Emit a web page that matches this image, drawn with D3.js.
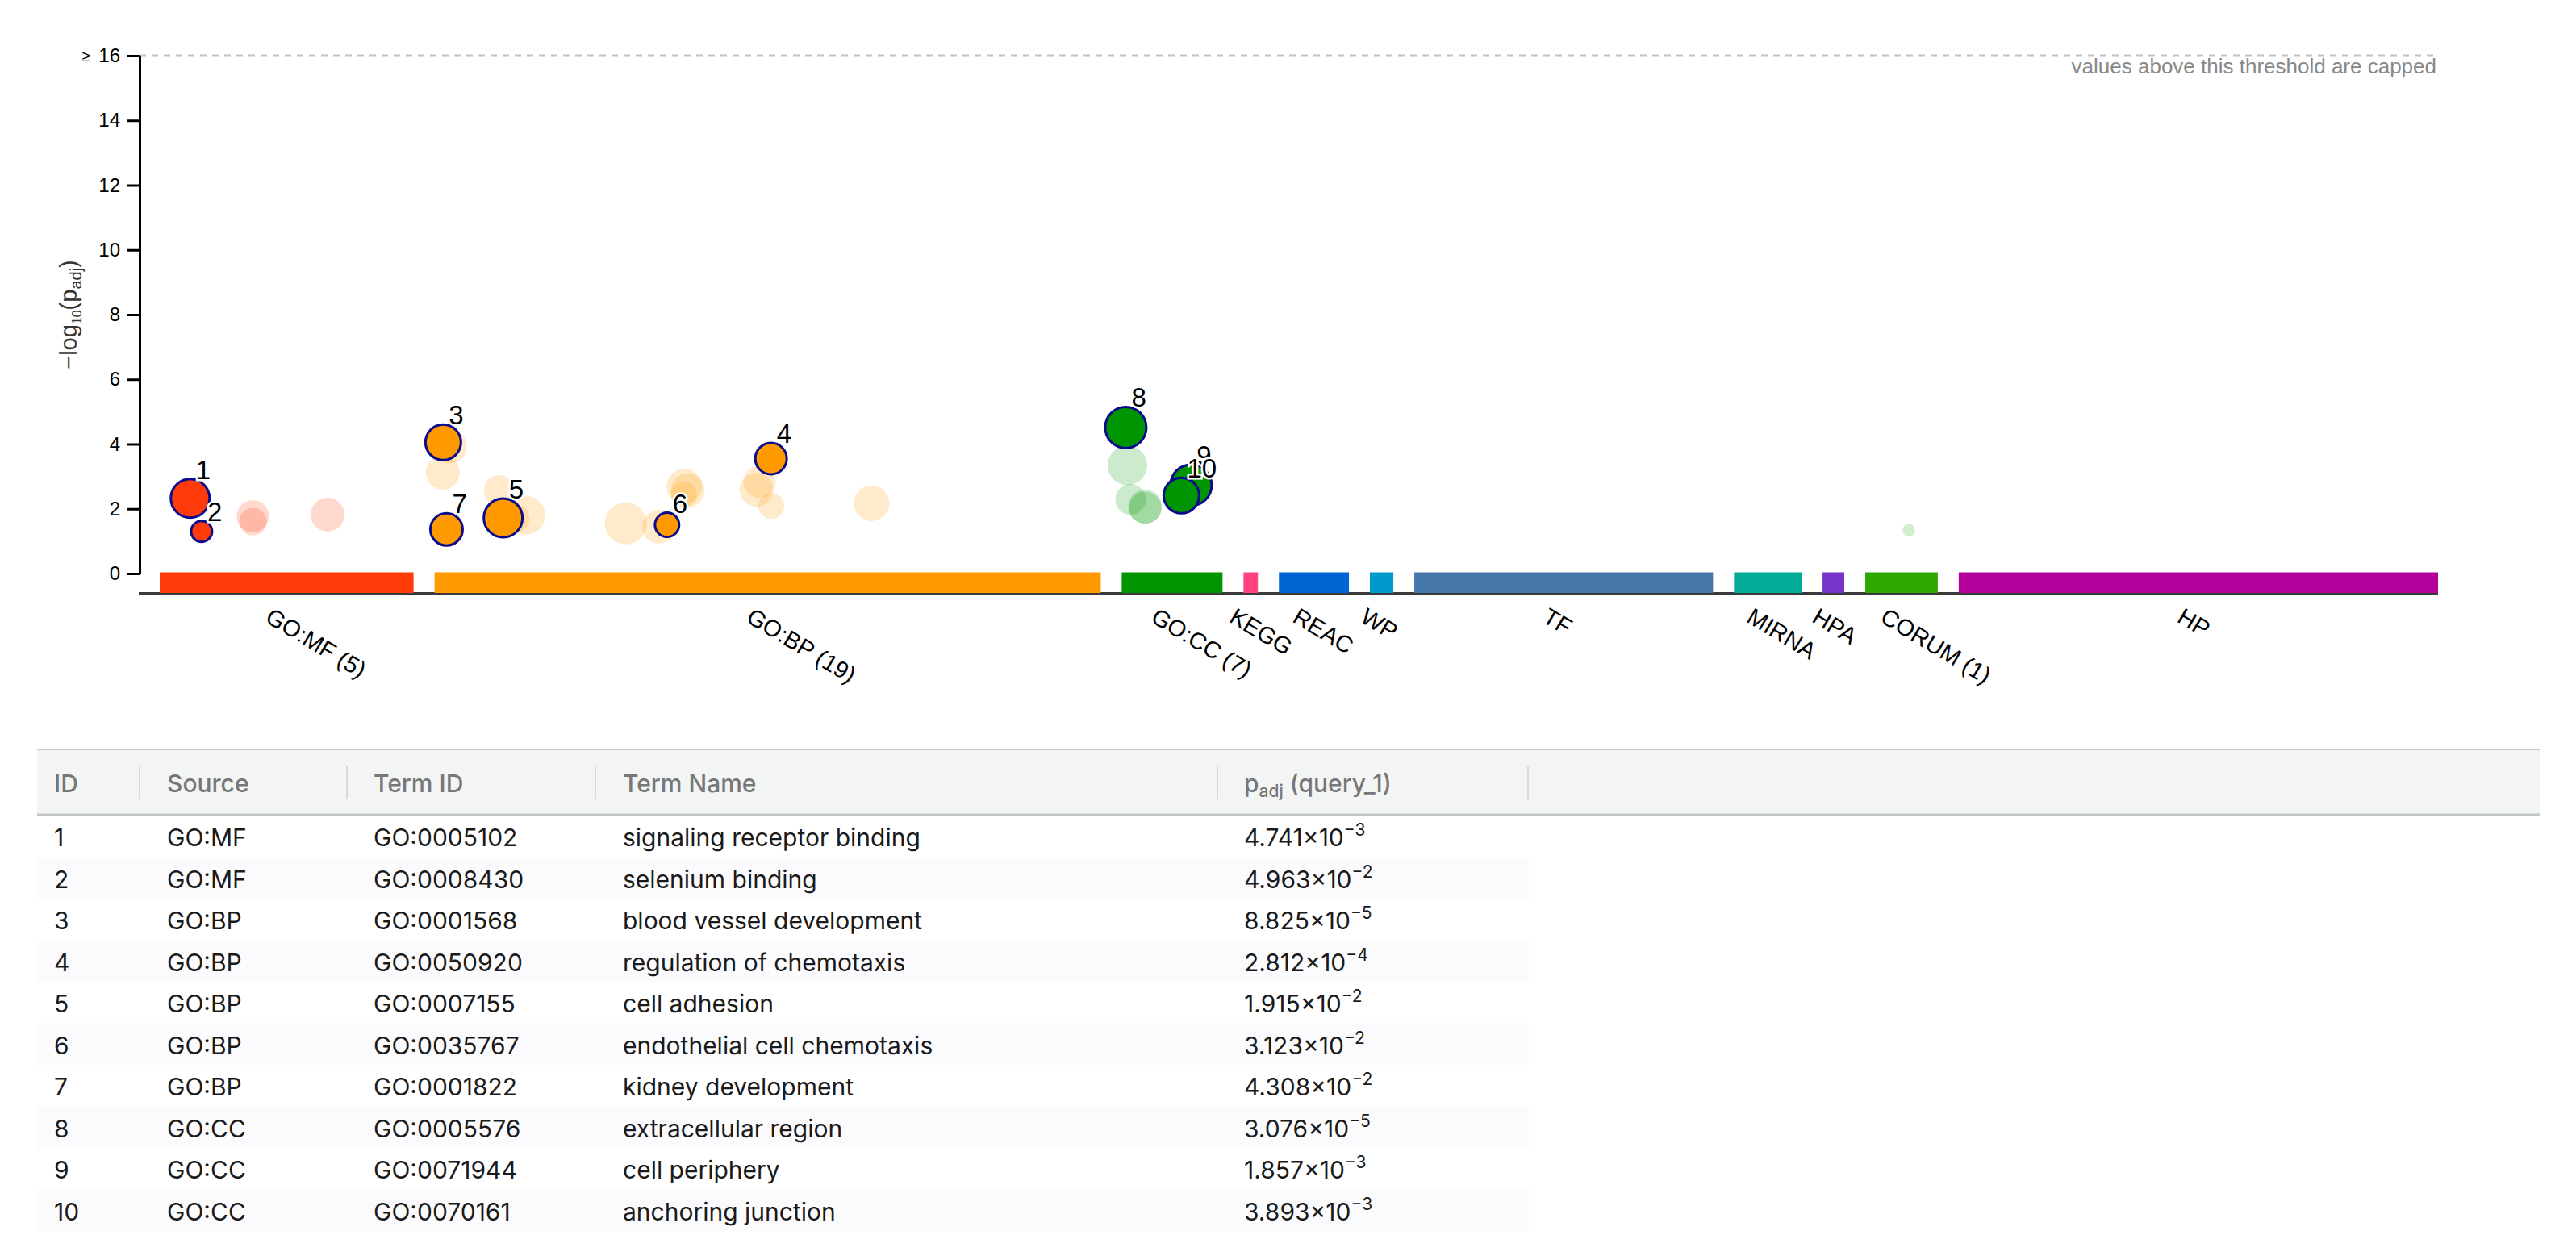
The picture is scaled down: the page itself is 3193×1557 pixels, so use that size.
<!DOCTYPE html>
<html>
<head>
<meta charset="utf-8">
<script src="https://cdn.jsdelivr.net/npm/d3@7"></script>
<style>
body { margin: 0; background: #fff; }
svg { display: block; }
</style>
</head>
<body>
<svg id="svg1" width="3193" height="1557"></svg>
<script>
// data sources, in plot order
var sources = ["GO:MF", "GO:BP", "GO:CC", "KEGG", "REAC", "WP", "TF", "MIRNA", "HPA", "CORUM", "HP"];
var sourceLabels = ["GO:MF (5)", "GO:BP (19)", "GO:CC (7)", "KEGG", "REAC", "WP", "TF", "MIRNA", "HPA", "CORUM (1)", "HP"];
// approximate number of terms in each source (sets the width of each block)
var sourceTerms = [10400, 27300, 4130, 590, 2870, 960, 12240, 2770, 890, 2970, 19640];

// every significant term: source, rank inside source, -log10(p_adj), term size, table id (0 = not listed)
var termSource = ["GO:MF", "GO:MF", "GO:MF", "GO:MF", "GO:MF",
	"GO:BP", "GO:BP", "GO:BP", "GO:BP", "GO:BP", "GO:BP", "GO:BP", "GO:BP", "GO:BP", "GO:BP",
	"GO:BP", "GO:BP", "GO:BP", "GO:BP", "GO:BP", "GO:BP", "GO:BP", "GO:BP", "GO:BP",
	"GO:CC", "GO:CC", "GO:CC", "GO:CC", "GO:CC", "GO:CC", "GO:CC",
	"CORUM"];
var termRank = [1248, 1716, 3817, 3817, 6874,
	355, 628, 340, 491, 2648, 2812, 3740, 3303, 7835, 9200,
	9528, 10238, 10374, 10210, 13787, 13322, 13186, 13800, 17909,
	165, 231, 363, 958, 958, 2841, 2445,
	1782];
var termValue = [null, null, 1.77, 1.60, 1.82,
	null, 3.92, 3.12, null, 2.57, null, 1.80, 1.70, 1.55, 1.45,
	null, 2.69, 2.57, 2.45, null, 2.83, 2.59, 2.09, 2.17,
	null, 3.34, 2.29, 2.07, 2.03, null, null,
	1.34];
var termGenes = [1194, 24, 290, 100, 412,
	589, 412, 412, 290, 203, 1194, 1194, 142, 2424, 412,
	49, 589, 412, 70, 242, 290, 412, 70, 589,
	2036, 1424, 203, 412, 290, 2036, 589,
	4];
var termId = [1, 2, 0, 0, 0,
	3, 0, 0, 7, 0, 5, 0, 0, 0, 0,
	6, 0, 0, 0, 4, 0, 0, 0, 0,
	8, 0, 0, 0, 0, 9, 10,
	0];

// table of highlighted terms
var tableIds = [1, 2, 3, 4, 5, 6, 7, 8, 9, 10];
var tableSource = ["GO:MF", "GO:MF", "GO:BP", "GO:BP", "GO:BP", "GO:BP", "GO:BP", "GO:CC", "GO:CC", "GO:CC"];
var tableTermId = ["GO:0005102", "GO:0008430", "GO:0001568", "GO:0050920", "GO:0007155",
	"GO:0035767", "GO:0001822", "GO:0005576", "GO:0071944", "GO:0070161"];
var tableName = ["signaling receptor binding", "selenium binding", "blood vessel development",
	"regulation of chemotaxis", "cell adhesion", "endothelial cell chemotaxis", "kidney development",
	"extracellular region", "cell periphery", "anchoring junction"];
var tablePadj = [4.741e-3, 4.963e-2, 8.825e-5, 2.812e-4, 1.915e-2, 3.123e-2, 4.308e-2, 3.076e-5, 1.857e-3, 3.893e-3];

var yTicks = [0, 2, 4, 6, 8, 10, 12, 14, 16];

var svg1 = d3.select("#svg1");
var chartFont = "'Liberation Sans', Arial, Helvetica, sans-serif";
var tableFont = "Inter, 'Noto Sans', sans-serif";

var axisX = 173, barLeft = 198, barRight = 3022, gap = 26;

var z = d3.scaleOrdinal()
	.domain(sources)
	.range(["#ff3b0a", "#ff9900", "#009400", "#ff4480", "#0066d4", "#0099cc", "#4477a8", "#00ab9a", "#7733cc", "#2ca800", "#b3009b"]);

var y = d3.scaleLinear().domain([0, 16]).range([711, 69]);
var r = d3.scaleLog().domain([1, 10000]).range([4, 30]);

// pixel extent of each source block
var unit = (barRight - barLeft - gap * (sources.length - 1)) / d3.sum(sourceTerms);
var starts = [];
var acc = barLeft;
sourceTerms.forEach(function(n, i) {
	starts.push(acc);
	acc += n * unit + gap;
});
var blockX = {};
sources.forEach(function(s, i) {
	blockX[s] = d3.scaleLinear().domain([0, sourceTerms[i]]).range([starts[i], starts[i] + sourceTerms[i] * unit]);
});

var g1 = svg1.append("g").attr("font-family", chartFont);

// capped threshold line
g1.append("line")
	.attr("x1", axisX).attr("x2", 3018)
	.attr("y1", y(16)).attr("y2", y(16))
	.attr("stroke", "#c2c2c2")
	.attr("stroke-width", 3)
	.attr("stroke-dasharray", "8,7");

g1.append("text")
	.attr("x", 3020).attr("y", y(16) + 22)
	.attr("text-anchor", "end")
	.attr("font-size", 26)
	.attr("fill", "#888")
	.text("values above this threshold are capped");

// x axis base line
g1.append("line")
	.attr("x1", axisX - 1).attr("x2", barRight)
	.attr("y1", 735.5).attr("y2", 735.5)
	.attr("stroke", "#3a3a3a")
	.attr("stroke-width", 3);

// source blocks
g1.append("g")
	.selectAll("rect")
	.data(sources)
	.enter().append("rect")
	.attr("x", function(d) { return blockX[d].range()[0]; })
	.attr("width", function(d) { return blockX[d].range()[1] - blockX[d].range()[0]; })
	.attr("y", 709.5)
	.attr("height", 25.5)
	.attr("fill", function(d) { return z(d); });

g1.append("g")
	.selectAll("text")
	.data(sources)
	.enter().append("text")
	.attr("transform", function(d) {
		var c = (blockX[d].range()[0] + blockX[d].range()[1]) / 2;
		return "translate(" + (c - 28) + ",770) rotate(31)";
	})
	.attr("font-size", 29)
	.attr("fill", "#000")
	.text(function(d, i) { return sourceLabels[i]; });

// y axis
var yAxis = g1.append("g")
	.attr("transform", "translate(" + axisX + ",0)")
	.call(d3.axisLeft(y).tickValues(yTicks).tickSize(16).tickSizeOuter(0).tickPadding(8));
yAxis.select(".domain").attr("stroke", "#000").attr("stroke-width", 3);
yAxis.selectAll(".tick line").attr("stroke", "#000").attr("stroke-width", 3);
yAxis.selectAll(".tick text")
	.attr("font-family", chartFont)
	.attr("font-size", 24)
	.attr("fill", "#000");

g1.append("text")
	.attr("x", 112).attr("y", y(16) + 7)
	.attr("text-anchor", "end")
	.attr("font-size", 19)
	.attr("fill", "#000")
	.text("\u2265");

var ylab = g1.append("text")
	.attr("transform", "translate(95," + ((y(0) + y(16)) / 2) + ") rotate(-90)")
	.attr("text-anchor", "middle")
	.attr("font-size", 29)
	.attr("fill", "#333");
ylab.append("tspan").text("\u2212log");
ylab.append("tspan").attr("font-size", 16).attr("dy", 6).text("10");
ylab.append("tspan").attr("dy", -6).text("(p");
ylab.append("tspan").attr("font-size", 20).attr("dy", 6).text("adj");
ylab.append("tspan").attr("dy", -6).text(")");

// points
var terms = termSource.map(function(s, i) {
	var id = termId[i];
	var v = id ? -Math.log10(tablePadj[id - 1]) : termValue[i];
	return {source: s, cx: blockX[s](termRank[i]), cy: y(v), r: r(termGenes[i]), id: id};
});

g1.append("g")
	.selectAll("circle")
	.data(terms.filter(function(d) { return !d.id; }))
	.enter().append("circle")
	.attr("cx", function(d) { return d.cx; })
	.attr("cy", function(d) { return d.cy; })
	.attr("r", function(d) { return d.r; })
	.attr("fill", function(d) { return z(d.source); })
	.attr("fill-opacity", 0.2);

var hl = terms.filter(function(d) { return d.id; });

g1.append("g")
	.selectAll("circle")
	.data(hl)
	.enter().append("circle")
	.attr("cx", function(d) { return d.cx; })
	.attr("cy", function(d) { return d.cy; })
	.attr("r", function(d) { return d.r; })
	.attr("fill", function(d) { return z(d.source); })
	.attr("stroke", "#0a0a8c")
	.attr("stroke-width", 3);

g1.append("g")
	.selectAll("text")
	.data(hl)
	.enter().append("text")
	.attr("x", function(d) { return d.cx + 7; })
	.attr("y", function(d) { return d.cy - d.r; })
	.attr("font-size", 33)
	.attr("fill", "#000")
	.attr("stroke", "#fff")
	.attr("stroke-width", 5)
	.attr("paint-order", "stroke")
	.text(function(d) { return d.id; });

////
//// table
////
var colX = [67, 207, 463, 772, 1542];
var sepX = [173, 430, 738, 1509, 1894];
var rowTop = 1011, rowH = 51.5;

var t = svg1.append("g").attr("font-family", tableFont);

t.append("rect")
	.attr("x", 46).attr("y", 928)
	.attr("width", 3148 - 46).attr("height", 82)
	.attr("fill", "#f3f5f5");
t.append("line")
	.attr("x1", 46).attr("x2", 3148).attr("y1", 929).attr("y2", 929)
	.attr("stroke", "#c6cacd").attr("stroke-width", 2);
t.append("line")
	.attr("x1", 46).attr("x2", 3148).attr("y1", 1010).attr("y2", 1010)
	.attr("stroke", "#c0c5c8").attr("stroke-width", 3);

t.selectAll(".sep")
	.data(sepX)
	.enter().append("line")
	.attr("class", "sep")
	.attr("x1", function(d) { return d; }).attr("x2", function(d) { return d; })
	.attr("y1", 950).attr("y2", 991)
	.attr("stroke", "#d6dadd").attr("stroke-width", 2);

var head = ["ID", "Source", "Term ID", "Term Name"];
t.selectAll(".head")
	.data(head)
	.enter().append("text")
	.attr("class", "head")
	.attr("x", function(d, i) { return colX[i]; })
	.attr("y", 982)
	.attr("font-size", 30)
	.attr("font-weight", 500)
	.attr("fill", "#777")
	.text(function(d) { return d; });

var ph = t.append("text")
	.attr("x", colX[4]).attr("y", 982)
	.attr("font-size", 30)
	.attr("font-weight", 500)
	.attr("fill", "#777");
ph.append("tspan").text("p");
ph.append("tspan").attr("font-size", 21).attr("dy", 6).text("adj");
ph.append("tspan").attr("dy", -6).text(" (query_1)");

var rows = t.selectAll(".row")
	.data(tableIds)
	.enter().append("g")
	.attr("class", "row")
	.attr("transform", function(d, i) { return "translate(0," + (rowTop + i * rowH) + ")"; });

rows.filter(function(d, i) { return i % 2 == 1; })
	.append("rect")
	.attr("x", 46).attr("width", 1895 - 46)
	.attr("height", rowH)
	.attr("fill", "#fbfbfd");

function cell(i, text) {
	return rows.append("text")
		.attr("x", colX[i])
		.attr("y", 38)
		.attr("font-size", 30)
		.attr("fill", "#1a1a1a")
		.text(text);
}
cell(0, function(d) { return d; });
cell(1, function(d, i) { return tableSource[i]; });
cell(2, function(d, i) { return tableTermId[i]; });
cell(3, function(d, i) { return tableName[i]; });

var pv = rows.append("text")
	.attr("x", colX[4])
	.attr("y", 38)
	.attr("font-size", 30)
	.attr("fill", "#1a1a1a");
pv.append("tspan").text(function(d, i) {
	return tablePadj[i].toExponential(3).split("e")[0] + "\u00d710";
});
pv.append("tspan")
	.attr("font-size", 21)
	.attr("dy", -13)
	.text(function(d, i) {
		return "\u2212" + tablePadj[i].toExponential(3).split("e-")[1];
	});
</script>
</body>
</html>
